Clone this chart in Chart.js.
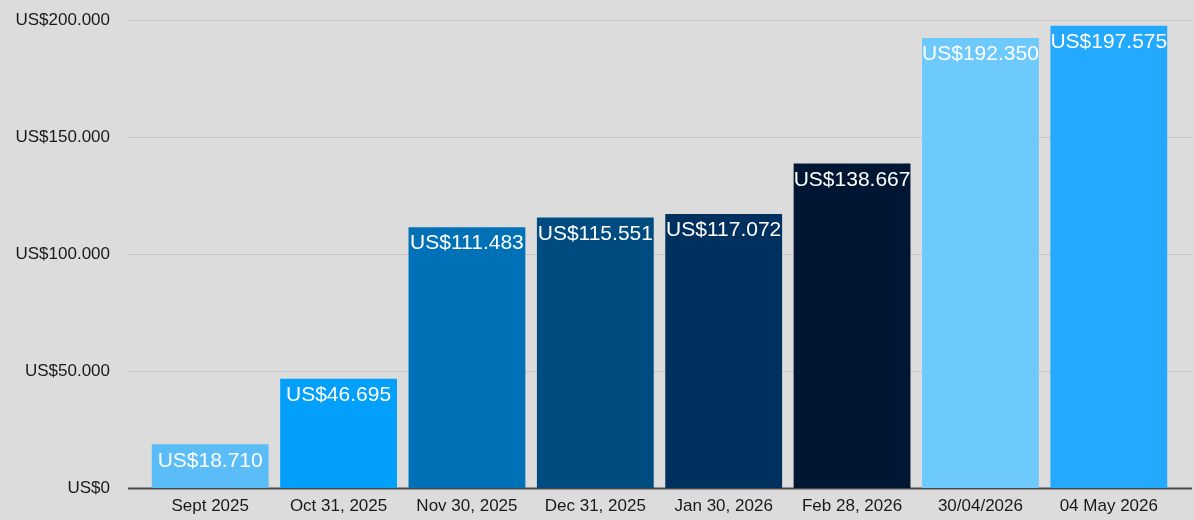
<!DOCTYPE html>
<html>
<head>
<meta charset="utf-8">
<script src="https://cdn.jsdelivr.net/npm/chart.js@4"></script>
<style>
  html, body { margin: 0; padding: 0; background: #dcdcdc; }
  #wrap { width: 1194px; height: 520px; }
</style>
</head>
<body>
<div id="wrap"><canvas id="trendChart" width="1194" height="520"></canvas></div>
<script>
var dates = [
  "Sept 2025",
  "Oct 31, 2025",
  "Nov 30, 2025",
  "Dec 31, 2025",
  "Jan 30, 2026",
  "Feb 28, 2026",
  "30/04/2026",
  "04 May 2026"
];
var values = [18710, 46695, 111483, 115551, 117072, 138667, 192350, 197575];
var barColors = [
  "#5bbdf8",
  "#03a0fb",
  "#0071b7",
  "#004c81",
  "#00305e",
  "#011633",
  "#6ec9fd",
  "#23a9fd"
];
var yTicks = [0, 50000, 100000, 150000, 200000];

function money(v) {
  return "US$" + String(v).replace(/\B(?=(\d{3})+(?!\d))/g, ".");
}

// gridlines run wider than the bar area, so draw them off the y scale
var gridPlugin = {
  id: "grid",
  beforeDatasetsDraw: function(chart) {
    var ctx = chart.ctx;
    var y = chart.scales.y;
    ctx.save();
    yTicks.forEach(function(t) {
      var py = Math.round(y.getPixelForValue(t)) + 0.5;
      ctx.beginPath();
      if (t === 0) {
        ctx.strokeStyle = "#4a4a4a";
        ctx.lineWidth = 2;
      } else {
        ctx.strokeStyle = "#c6c6c6";
        ctx.lineWidth = 1;
      }
      ctx.moveTo(128, py);
      ctx.lineTo(1192, py);
      ctx.stroke();
    });
    ctx.restore();
  }
};

var labelPlugin = {
  id: "barLabels",
  afterDatasetsDraw: function(chart) {
    var ctx = chart.ctx;
    var meta = chart.getDatasetMeta(0);
    ctx.save();
    ctx.font = "21px 'Liberation Sans', Arial, sans-serif";
    ctx.fillStyle = "#ffffff";
    ctx.textAlign = "center";
    ctx.textBaseline = "top";
    meta.data.forEach(function(bar, i) {
      ctx.fillText(money(values[i]), bar.x, bar.y + 6);
    });
    ctx.restore();
  }
};

window.onload = function() {
  var trendChart = document.getElementById("trendChart").getContext("2d");

  var data = {
    type: "bar",
    data: {
      labels: dates,
      datasets: [
        {
          data: values,
          backgroundColor: barColors,
          borderWidth: 0,
          barPercentage: 0.91,
          categoryPercentage: 1
        }
      ]
    },
    options: {
      responsive: false,
      animation: false,
      layout: { padding: { top: 0, right: 21, left: 0, bottom: 0 } },
      plugins: {
        legend: { display: false },
        tooltip: { enabled: false }
      },
      scales: {
        x: {
          afterFit: function(scale) {
            scale.height = 32;
            scale.paddingBottom = 0;
          },
          grid: { display: false, drawTicks: false },
          border: { display: false },
          ticks: {
            color: "#1a1a1a",
            padding: 8,
            font: { family: "'Liberation Sans', Arial, sans-serif", size: 17 },
            maxRotation: 0,
            autoSkip: false
          }
        },
        y: {
          min: 0,
          max: 200000,
          afterFit: function(scale) {
            scale.width = 146;
            scale.paddingTop = 20;
            scale.paddingBottom = 0;
          },
          grid: { display: false },
          border: { display: false },
          afterBuildTicks: function(scale) {
            scale.ticks = yTicks.map(function(v) { return { value: v }; });
          },
          ticks: {
            color: "#1a1a1a",
            padding: 28,
            font: { family: "'Liberation Sans', Arial, sans-serif", size: 17 },
            callback: function(v) { return money(v); }
          }
        }
      }
    },
    plugins: [gridPlugin, labelPlugin]
  };

  window.myBar = new Chart(trendChart, data);
};
</script>
</body>
</html>
